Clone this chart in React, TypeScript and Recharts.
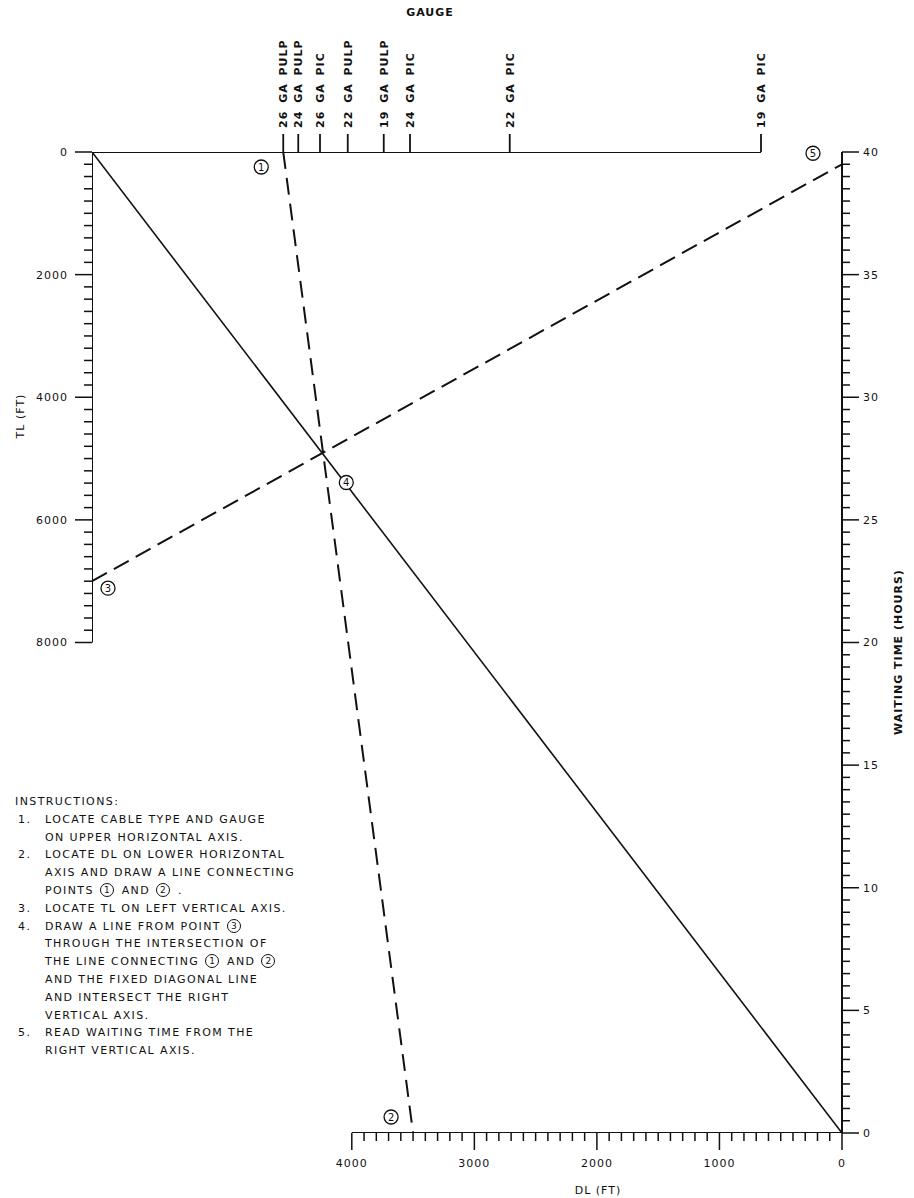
import React from 'react';
import { LineChart, Line, XAxis, YAxis, ReferenceDot } from 'recharts';

// upper scale: cable type / gauge, and where each mark sits
// (% of the way from the TL axis to the waiting time axis)
const GAUGE_LABELS = ['26 GA PULP', '24 GA PULP', '26 GA PIC', '22 GA PULP', '19 GA PULP', '24 GA PIC', '22 GA PIC', '19 GA PIC'];
const GAUGE_POS = [25.5, 27.5, 30.4, 34.1, 38.9, 42.4, 55.7, 89.2];

const TL_LABELS = [0, 2000, 4000, 6000, 8000];
const DL_LABELS = [0, 1000, 2000, 3000, 4000];
const WT_LABELS = [0, 5, 10, 15, 20, 25, 30, 35, 40];

// worked example drawn on the nomogram
const EX_GAUGE = '26 GA PULP';
const EX_DL = 3500;
const EX_TL = 7000;
const EX_WT = 39.5;

const TL_SPAN = 16000; // TL value at the bottom edge of the plot
const DL_SPAN = 6120; // DL value at the left edge of the plot
const WT_MAX = 40;

const FONT = '"DejaVu Sans", sans-serif';
const INK = '#111';

const steps = (to: number, step: number) =>
  Array.from({ length: Math.round(to / step) + 1 }, (_, i) => i * step);
const TL_TICKS = steps(8000, 200);
const DL_TICKS = steps(4000, 100);
const WT_TICKS = steps(40, 0.5);

const gaugeToDl = (p: number) => DL_SPAN * (1 - p / 100);
const tlToWt = (tl: number) => WT_MAX * (1 - tl / TL_SPAN);

const exGaugePos = GAUGE_POS[GAUGE_LABELS.indexOf(EX_GAUGE)];
const p1 = { dl: gaugeToDl(exGaugePos), wt: WT_MAX };
const p2 = { dl: EX_DL, wt: 0 };
const p3 = { dl: DL_SPAN, wt: tlToWt(EX_TL) };
const p5 = { dl: 0, wt: EX_WT };
// where the 1-2 line crosses the fixed diagonal
const crossDl = (DL_SPAN * p2.dl) / (DL_SPAN + p2.dl - p1.dl);
const p4 = { dl: crossDl, wt: (WT_MAX * crossDl) / DL_SPAN };

// scale lines
const gaugeScale = [{ gauge: 0, tl: 0 }, { gauge: GAUGE_POS[GAUGE_POS.length - 1], tl: 0 }];
const tlScale = [{ gauge: 0, tl: 0 }, { gauge: 0, tl: TL_LABELS[TL_LABELS.length - 1] }];
const dlScale = [{ dl: DL_LABELS[DL_LABELS.length - 1], wt: 0 }, { dl: 0, wt: 0 }];

const diagonal = [{ dl: DL_SPAN, wt: WT_MAX }, { dl: 0, wt: 0 }];
const line12 = [p1, p2];
const line35 = [p3, p5];

const numStyle = { fontFamily: FONT, fontSize: 11, letterSpacing: 1, fill: INK };

function TlTick({ x, y, payload }: any) {
  const major = TL_LABELS.includes(payload.value);
  return (
    <g>
      <line x1={x - (major ? 17 : 8)} y1={y} x2={x} y2={y} stroke={INK} strokeWidth={1.5} />
      {major && (
        <text x={x - 24} y={y} dy="0.36em" textAnchor="end" style={numStyle}>
          {payload.value}
        </text>
      )}
    </g>
  );
}

function WtTick({ x, y, payload }: any) {
  const major = WT_LABELS.includes(payload.value);
  return (
    <g>
      <line x1={x} y1={y} x2={x + (major ? 17 : 8)} y2={y} stroke={INK} strokeWidth={1.5} />
      {major && (
        <text x={x + 21} y={y} dy="0.36em" textAnchor="start" style={numStyle}>
          {payload.value}
        </text>
      )}
    </g>
  );
}

function DlTick({ x, y, payload }: any) {
  const major = DL_LABELS.includes(payload.value);
  return (
    <g>
      <line x1={x} y1={y} x2={x} y2={y + (major ? 17 : 8)} stroke={INK} strokeWidth={1.5} />
      {major && (
        <text x={x} y={y + 30} dy="0.36em" textAnchor="middle" style={numStyle}>
          {payload.value}
        </text>
      )}
    </g>
  );
}

function GaugeTick({ x, y, payload }: any) {
  const ty = y - 24;
  return (
    <g>
      <line x1={x} y1={y - 18} x2={x} y2={y} stroke={INK} strokeWidth={1.8} />
      <text
        x={x}
        y={ty}
        dy="0.36em"
        transform={`rotate(-90 ${x} ${ty})`}
        textAnchor="start"
        style={{ fontFamily: FONT, fontSize: 11, fontWeight: 700, letterSpacing: 1, wordSpacing: 3, fill: INK }}
      >
        {GAUGE_LABELS[GAUGE_POS.indexOf(payload.value)]}
      </text>
    </g>
  );
}

function AxisTitle({ viewBox, text, dx, dy, rot, bold }: any) {
  const cx = viewBox.x + dx;
  const cy = viewBox.y + dy;
  return (
    <text
      x={cx}
      y={cy}
      dy="0.36em"
      textAnchor="middle"
      transform={rot ? `rotate(${rot} ${cx} ${cy})` : undefined}
      style={{ fontFamily: FONT, fontSize: 11, fontWeight: bold ? 700 : 400, letterSpacing: 1, fill: INK }}
    >
      {text}
    </text>
  );
}

function Marker({ cx, cy, n, dx, dy }: any) {
  return (
    <g>
      <circle cx={cx + dx} cy={cy + dy} r={7} fill="#fff" stroke={INK} strokeWidth={1.3} />
      <text
        x={cx + dx}
        y={cy + dy}
        dy="0.36em"
        textAnchor="middle"
        style={{ fontFamily: FONT, fontSize: 10, fill: INK }}
      >
        {n}
      </text>
    </g>
  );
}

function Circled({ n }: { n: string }) {
  return (
    <span
      style={{
        display: 'inline-block',
        width: 12,
        height: 12,
        border: `1.3px solid ${INK}`,
        borderRadius: '50%',
        textAlign: 'center',
        lineHeight: '12px',
        fontSize: 9,
        letterSpacing: 0,
        verticalAlign: 'middle',
        margin: '0 3px 2px 1px',
      }}
    >
      {n}
    </span>
  );
}

const INSTRUCTIONS: { n: string; lines: React.ReactNode[] }[] = [
  { n: '1.', lines: ['LOCATE CABLE TYPE AND GAUGE', 'ON UPPER HORIZONTAL AXIS.'] },
  {
    n: '2.',
    lines: [
      'LOCATE DL ON LOWER HORIZONTAL',
      'AXIS AND DRAW A LINE CONNECTING',
      <>POINTS <Circled n="1" /> AND <Circled n="2" /> .</>,
    ],
  },
  { n: '3.', lines: ['LOCATE TL ON LEFT VERTICAL AXIS.'] },
  {
    n: '4.',
    lines: [
      <>DRAW A LINE FROM POINT <Circled n="3" /></>,
      'THROUGH THE INTERSECTION OF',
      <>THE LINE CONNECTING <Circled n="1" /> AND <Circled n="2" /></>,
      'AND THE FIXED DIAGONAL LINE',
      'AND INTERSECT THE RIGHT',
      'VERTICAL AXIS.',
    ],
  },
  { n: '5.', lines: ['READ WAITING TIME FROM THE', 'RIGHT VERTICAL AXIS.'] },
];

export default function App() {
  return (
    <div style={{ position: 'absolute', left: 0, top: 0, width: 914, height: 1198, background: '#fff' }}>
      <LineChart width={914} height={1198} margin={{ top: 0, right: 0, bottom: 0, left: 0 }}>
        <XAxis
          xAxisId="gauge"
          dataKey="gauge"
          orientation="top"
          type="number"
          domain={[0, 100]}
          allowDataOverflow
          ticks={GAUGE_POS}
          interval={0}
          height={152}
          axisLine={false}
          tickLine={false}
          tickSize={0}
          tickMargin={0}
          tick={(p: any) => <GaugeTick {...p} />}
          label={<AxisTitle text="GAUGE" dx={338} dy={12} bold />}
        />
        <XAxis
          xAxisId="dl"
          dataKey="dl"
          type="number"
          domain={[0, DL_SPAN]}
          allowDataOverflow
          reversed
          ticks={DL_TICKS}
          interval={0}
          height={65}
          axisLine={false}
          tickLine={false}
          tickSize={0}
          tickMargin={0}
          tick={(p: any) => <DlTick {...p} />}
          label={<AxisTitle text="DL (FT)" dx={506} dy={57} />}
        />
        <YAxis
          yAxisId="tl"
          orientation="left"
          type="number"
          domain={[0, TL_SPAN]}
          allowDataOverflow
          reversed
          ticks={TL_TICKS}
          interval={0}
          width={92}
          axisLine={false}
          tickLine={false}
          tickSize={0}
          tickMargin={0}
          tick={(p: any) => <TlTick {...p} />}
          label={<AxisTitle text="TL (FT)" dx={20} dy={264} rot={-90} />}
        />
        <YAxis
          yAxisId="wt"
          orientation="right"
          type="number"
          domain={[0, WT_MAX]}
          allowDataOverflow
          ticks={WT_TICKS}
          interval={0}
          width={72}
          axisLine={{ stroke: INK, strokeWidth: 2 }}
          tickLine={false}
          tickSize={0}
          tickMargin={0}
          tick={(p: any) => <WtTick {...p} />}
          label={<AxisTitle text="WAITING TIME (HOURS)" dx={56} dy={500} rot={-90} bold />}
        />

        {/* scale lines of the upper gauge axis, the TL axis and the DL axis */}
        <Line xAxisId="gauge" yAxisId="tl" data={gaugeScale} dataKey="tl" stroke={INK} strokeWidth={2}
          dot={false} isAnimationActive={false} />
        <Line xAxisId="gauge" yAxisId="tl" data={tlScale} dataKey="tl" stroke={INK} strokeWidth={2}
          dot={false} isAnimationActive={false} />
        <Line xAxisId="dl" yAxisId="wt" data={dlScale} dataKey="wt" stroke={INK} strokeWidth={2}
          dot={false} isAnimationActive={false} />

        {/* fixed diagonal and the worked example */}
        <Line xAxisId="dl" yAxisId="wt" data={diagonal} dataKey="wt" stroke={INK} strokeWidth={1.6}
          dot={false} isAnimationActive={false} />
        <Line xAxisId="dl" yAxisId="wt" data={line12} dataKey="wt" stroke={INK} strokeWidth={2}
          strokeDasharray="17 9" dot={false} isAnimationActive={false} />
        <Line xAxisId="dl" yAxisId="wt" data={line35} dataKey="wt" stroke={INK} strokeWidth={2}
          strokeDasharray="17 8" dot={false} isAnimationActive={false} />

        <ReferenceDot xAxisId="dl" yAxisId="wt" x={p1.dl} y={p1.wt} ifOverflow="visible"
          shape={(p: any) => <Marker {...p} n="1" dx={-22} dy={15} />} />
        <ReferenceDot xAxisId="dl" yAxisId="wt" x={p2.dl} y={p2.wt} ifOverflow="visible"
          shape={(p: any) => <Marker {...p} n="2" dx={-22} dy={-16} />} />
        <ReferenceDot xAxisId="dl" yAxisId="wt" x={p3.dl} y={p3.wt} ifOverflow="visible"
          shape={(p: any) => <Marker {...p} n="3" dx={16} dy={7} />} />
        <ReferenceDot xAxisId="dl" yAxisId="wt" x={p4.dl} y={p4.wt} ifOverflow="visible"
          shape={(p: any) => <Marker {...p} n="4" dx={23} dy={28} />} />
        <ReferenceDot xAxisId="dl" yAxisId="wt" x={p5.dl} y={p5.wt} ifOverflow="visible"
          shape={(p: any) => <Marker {...p} n="5" dx={-29} dy={-11} />} />
      </LineChart>

      <div
        style={{
          position: 'absolute',
          left: 15,
          top: 793,
          fontFamily: FONT,
          fontSize: 11,
          letterSpacing: 1.4,
          lineHeight: '17.8px',
          color: INK,
          whiteSpace: 'pre',
        }}
      >
        <div>INSTRUCTIONS:</div>
        {INSTRUCTIONS.map((item) => (
          <div key={item.n} style={{ display: 'flex' }}>
            <span style={{ width: 27, paddingLeft: 3 }}>{item.n}</span>
            <div>
              {item.lines.map((ln, i) => (
                <div key={i}>{ln}</div>
              ))}
            </div>
          </div>
        ))}
      </div>
    </div>
  );
}
